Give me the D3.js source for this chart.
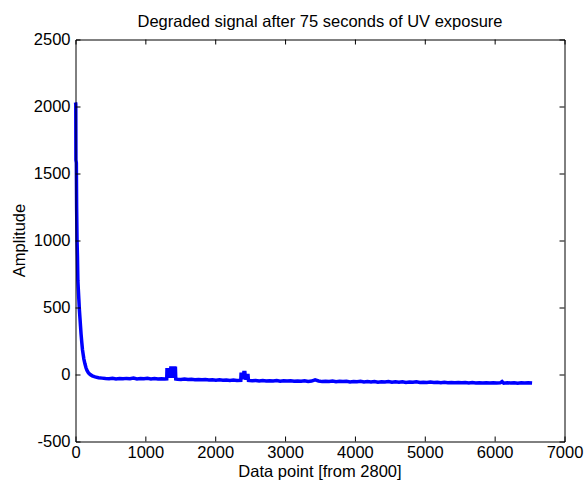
<!DOCTYPE html>
<html>
<head>
<meta charset="utf-8">
<script src="https://cdn.jsdelivr.net/npm/d3@7"></script>
<style>
  html, body { margin: 0; padding: 0; background: #fff; }
  svg text { font-family: "Liberation Sans", Arial, Helvetica, sans-serif; fill: #000; }
</style>
</head>
<body>
<svg id="chart" width="584" height="483"></svg>
<script>
// Signal samples: data point index (offset from 2800) and amplitude
const pointIndex = [
  0, 4, 6, 12, 16, 22, 28, 34, 40, 48, 56, 64, 72, 80, 90, 100, 110, 120, 135, 150,
  165, 185, 210, 240, 280, 330, 380, 430, 480, 530, 580, 630, 680, 730, 780, 830,
  880, 930, 980, 1030, 1080, 1130, 1180, 1230, 1280, 1306,
  1310, 1316, 1322, 1328, 1334, 1340, 1348, 1352, 1362, 1366, 1374, 1382, 1390, 1398, 1406, 1414, 1422, 1430, 1435,
  1460, 1510, 1560, 1610, 1660, 1710, 1760, 1810, 1860, 1910, 1960, 2010, 2060,
  2110, 2160, 2210, 2260, 2310, 2366,
  2371, 2380, 2390, 2400, 2410, 2425, 2429, 2440, 2455, 2470, 2476,
  2530, 2580, 2630, 2680, 2730, 2780, 2830, 2880, 2930, 2980, 3030, 3080, 3130,
  3180, 3230, 3280, 3330, 3380, 3430, 3480, 3530, 3580, 3630, 3680, 3730, 3780,
  3830, 3880, 3930, 3980, 4030, 4080, 4130, 4180, 4230, 4280, 4330, 4380, 4430,
  4480, 4530, 4580, 4630, 4680, 4730, 4780, 4830, 4880, 4930, 4980, 5030, 5080,
  5130, 5180, 5230, 5280, 5330, 5380, 5430, 5480, 5530, 5580, 5630, 5680, 5730,
  5780, 5830, 5880, 5930, 5980, 6030, 6080, 6106, 6130, 6180, 6230, 6280, 6330,
  6380, 6430, 6480, 6536
];
const amplitude = [
  2030, 2020, 1600, 1580, 1250, 1000, 880, 700, 640, 560, 480, 420, 360, 300, 240, 185, 150, 115, 80, 50,
  30, 12, 0, -10, -18, -24, -27, -30, -31, -28, -33, -30, -32, -29, -31, -27,
  -33, -30, -32, -29, -33, -30, -34, -31, -33, -32,
  48, -25, 48, -25, 48, -25, 48, 20, 20, 60, -25, 60, -25, 60, -25, 60, -25, 60, -33,
  -35, -37, -34, -38, -36, -39, -37, -40, -38, -41, -39, -42, -40,
  -43, -41, -44, -42, -45, -43,
  14, -35, 14, -35, 14, 14, -8, -38, -8, -8, -44,
  -47, -44, -48, -45, -49, -46, -48, -45, -50, -47, -49, -46, -51,
  -48, -50, -47, -52, -49, -40, -48, -53, -50, -52, -49, -54, -51,
  -53, -50, -55, -52, -54, -51, -56, -53, -55, -52, -57, -54, -56,
  -53, -58, -55, -57, -54, -59, -56, -58, -55, -60, -57, -59, -56,
  -60, -58, -61, -58, -61, -59, -62, -59, -62, -60, -63, -60, -63,
  -61, -64, -61, -64, -62, -64, -62, -52, -65, -62, -64, -62, -65,
  -62, -64, -62, -64
];
const xTicks = [0, 1000, 2000, 3000, 4000, 5000, 6000, 7000];
const yTicks = [-500, 0, 500, 1000, 1500, 2000, 2500];

const titleText = "Degraded signal after 75 seconds of UV exposure";
const xLabelText = "Data point [from 2800]";
const yLabelText = "Amplitude";

const W = 584, H = 483;
const margin = { left: 75.5, right: W - 564.5, top: 39.5, bottom: H - 441.5 };

const svg = d3.select("#chart");

const x = d3.scaleLinear().domain([0, 7000]).range([margin.left, W - margin.right]);
const y = d3.scaleLinear().domain([-500, 2500]).range([H - margin.bottom, margin.top]);

const series = pointIndex.map((p, i) => ({ p, a: amplitude[i] }));

// Signal trace
const line = d3.line().x(d => x(d.p)).y(d => y(d.a));
svg.append("path")
  .datum(series)
  .attr("fill", "none")
  .attr("stroke", "#0000ff")
  .attr("stroke-width", 3.5)
  .attr("stroke-linejoin", "miter")
  .attr("stroke-miterlimit", 2)
  .attr("d", line);

// Plain hyphen-minus labels
const fmt = d => String(d);

// Axes with inward ticks on all four sides
const fontSize = 16.5;
const axBottom = svg.append("g")
  .attr("transform", `translate(0,${y(-500)})`)
  .call(d3.axisBottom(x).tickValues(xTicks).tickSize(-5).tickPadding(5).tickFormat(fmt));
const axTop = svg.append("g")
  .attr("transform", `translate(0,${y(2500)})`)
  .call(d3.axisTop(x).tickValues(xTicks).tickSize(-5).tickFormat(""));
const axLeft = svg.append("g")
  .attr("transform", `translate(${x(0)},0)`)
  .call(d3.axisLeft(y).tickValues(yTicks).tickSize(-5).tickPadding(5).tickFormat(fmt));
const axRight = svg.append("g")
  .attr("transform", `translate(${x(7000)},0)`)
  .call(d3.axisRight(y).tickValues(yTicks).tickSize(-5).tickFormat(""));

[axBottom, axTop, axLeft, axRight].forEach(g => {
  g.select(".domain").attr("stroke", "#000").attr("stroke-width", 1);
  g.selectAll(".tick line").attr("stroke", "#000");
  g.selectAll("text").attr("font-size", fontSize).attr("font-family", "Liberation Sans, Arial, sans-serif").attr("fill", "#000");
});
// Drop end ticks that sit on the frame
[axBottom, axTop].forEach(g => g.selectAll(".tick line").filter(d => d === 0 || d === 7000).remove());
[axLeft, axRight].forEach(g => g.selectAll(".tick line").filter(d => d === -500 || d === 2500).remove());

// Title and axis labels
svg.append("text")
  .attr("x", (x(0) + x(7000)) / 2)
  .attr("y", 27)
  .attr("text-anchor", "middle")
  .attr("font-size", fontSize)
  .text(titleText);

svg.append("text")
  .attr("x", (x(0) + x(7000)) / 2)
  .attr("y", 477)
  .attr("text-anchor", "middle")
  .attr("font-size", fontSize)
  .text(xLabelText);

svg.append("text")
  .attr("transform", `translate(25,${(y(-500) + y(2500)) / 2}) rotate(-90)`)
  .attr("text-anchor", "middle")
  .attr("font-size", fontSize)
  .text(yLabelText);
</script>
</body>
</html>
